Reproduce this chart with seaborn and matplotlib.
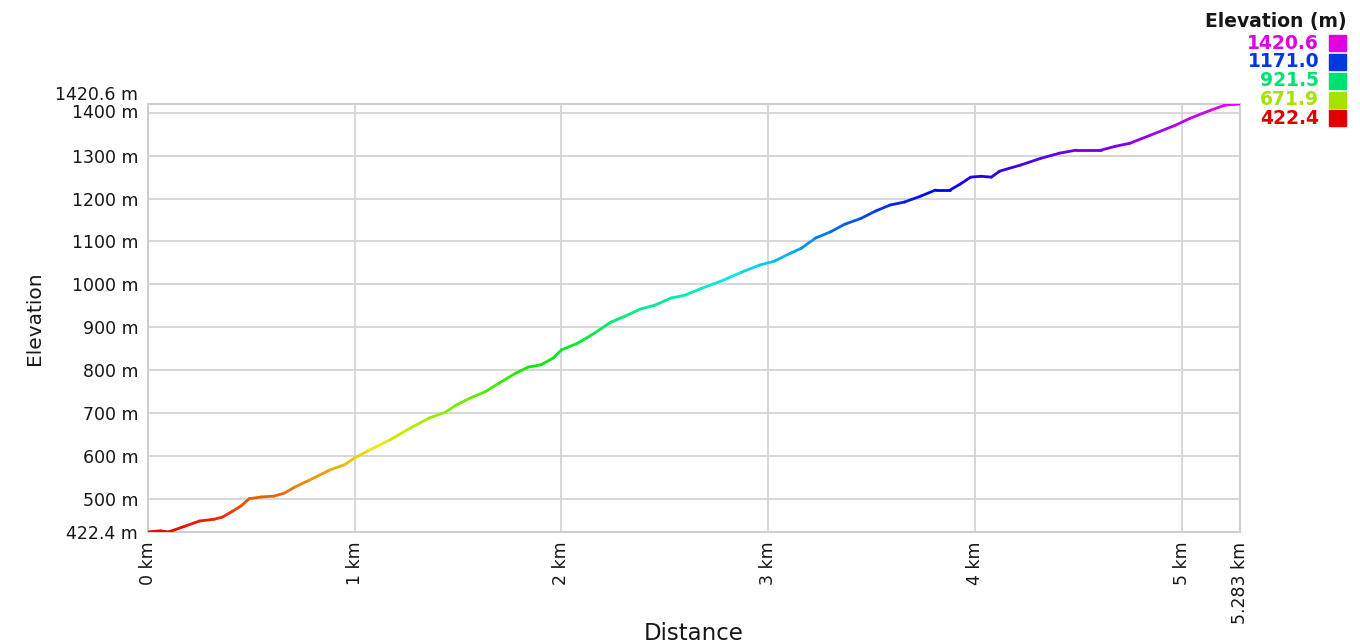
import numpy as np
import matplotlib
matplotlib.use("Agg")
import matplotlib.pyplot as plt
import matplotlib.colors as mcolors
from matplotlib.collections import LineCollection
import seaborn as sns

# profile (km, m)
distance_km = [0.0, 0.06, 0.10, 0.18, 0.25, 0.32, 0.36, 0.41, 0.45, 0.49,
               0.55, 0.61, 0.66, 0.71, 0.78, 0.88, 0.95, 1.00, 1.07, 1.17,
               1.27, 1.36, 1.44, 1.49, 1.56, 1.63, 1.70, 1.78, 1.84, 1.90,
               1.96, 2.00, 2.08, 2.16, 2.24, 2.31, 2.38, 2.45, 2.53, 2.60,
               2.67, 2.77, 2.87, 2.96, 3.03, 3.11, 3.16, 3.23, 3.30, 3.37,
               3.45, 3.52, 3.59, 3.66, 3.74, 3.81, 3.88, 3.93, 3.98, 4.03,
               4.08, 4.12, 4.22, 4.32, 4.41, 4.49, 4.61, 4.68, 4.75, 4.85,
               4.97, 5.04, 5.14, 5.21, 5.283]
elevation_m = [422.4, 425, 422.4, 436, 448, 452, 457, 471, 483, 500,
               504, 506, 513, 527, 543, 567, 579, 595, 613, 637,
               665, 688, 702, 718, 735, 749, 770, 793, 807, 812,
               828, 847, 863, 886, 912, 926, 942, 951, 968, 975,
               989, 1007, 1028, 1045, 1054, 1073, 1084, 1108, 1122, 1140,
               1154, 1171, 1185, 1192, 1206, 1220, 1220, 1234, 1250, 1252,
               1250, 1264, 1278, 1294, 1306, 1313, 1313, 1322, 1329, 1348,
               1371, 1387, 1406, 1418, 1420.6]

x_ticks = [0, 1, 2, 3, 4, 5, 5.283]
x_labels = ["0 km", "1 km", "2 km", "3 km", "4 km", "5 km", "5.283 km"]
y_ticks = [422.4, 500, 600, 700, 800, 900, 1000, 1100, 1200, 1300, 1400, 1420.6]
y_labels = ["422.4 m", "500 m", "600 m", "700 m", "800 m", "900 m", "1000 m",
            "1100 m", "1200 m", "1300 m", "1400 m", "1420.6 m"]
legend_values = [1420.6, 1171.0, 921.5, 671.9, 422.4]

e_min, e_max = min(elevation_m), max(elevation_m)


def elev_color(e, v=0.92):
    hue = (e - e_min) / (e_max - e_min) * 300.0 / 360.0
    return mcolors.hsv_to_rgb([hue, 1.0, v])


sns.set_style("white")
plt.rcParams["font.family"] = ["DejaVu Sans"]
for k in ["text.color", "axes.labelcolor", "xtick.color", "ytick.color"]:
    plt.rcParams[k] = "#161616"

fig = plt.figure(figsize=(13.6, 6.44), dpi=100)
ax = fig.add_axes([0.1088, 0.174, 0.8030, 0.6645])

# colour each segment by its mean elevation
pts = np.column_stack([distance_km, elevation_m])
segs = np.stack([pts[:-1], pts[1:]], axis=1)
seg_colors = [elev_color((a + b) / 2) for a, b in zip(elevation_m[:-1], elevation_m[1:])]
lc = LineCollection(segs, colors=seg_colors, linewidths=2.0, capstyle="round",
                    joinstyle="round", zorder=3)
ax.add_collection(lc)

ax.set_xlim(0, 5.283)
ax.set_ylim(e_min, e_max)
ax.set_xticks(x_ticks)
ax.set_xticklabels(x_labels, rotation=90, fontsize=12.5, va="top")
ax.set_yticks(y_ticks)
ax.set_yticklabels(y_labels, fontsize=12.5)
ax.tick_params(length=0, pad=7)
# nudge the two crowded top labels apart
labs = ax.get_yticklabels()
labs[-1].set_va("bottom")
labs[-2].set_va("center")

ax.grid(True, color="#d4d4d4", linewidth=1.3)
for sp in ax.spines.values():
    sp.set_color("#cfcfcf")
    sp.set_linewidth(1.5)

ax.set_xlabel("Distance", fontsize=16.5)
ax.set_ylabel("Elevation", fontsize=14.5, labelpad=8)
ax.xaxis.set_label_coords(0.5, -0.21)

# colour legend, top right
fig.text(0.990, 0.967, "Elevation (m)", fontsize=13.5, fontweight="bold",
         ha="right", va="center")
for i, val in enumerate(legend_values):
    yy = 0.933 - i * 0.0292
    col = elev_color(val, v=0.88)
    fig.text(0.970, yy, f"{val:.1f}", fontsize=13.5, fontweight="bold",
             color=col, ha="right", va="center")
    fig.patches.append(plt.Rectangle((0.9775, yy - 0.0125), 0.0125, 0.025,
                                     transform=fig.transFigure, color=col))

fig.savefig("out.png", dpi=100)
